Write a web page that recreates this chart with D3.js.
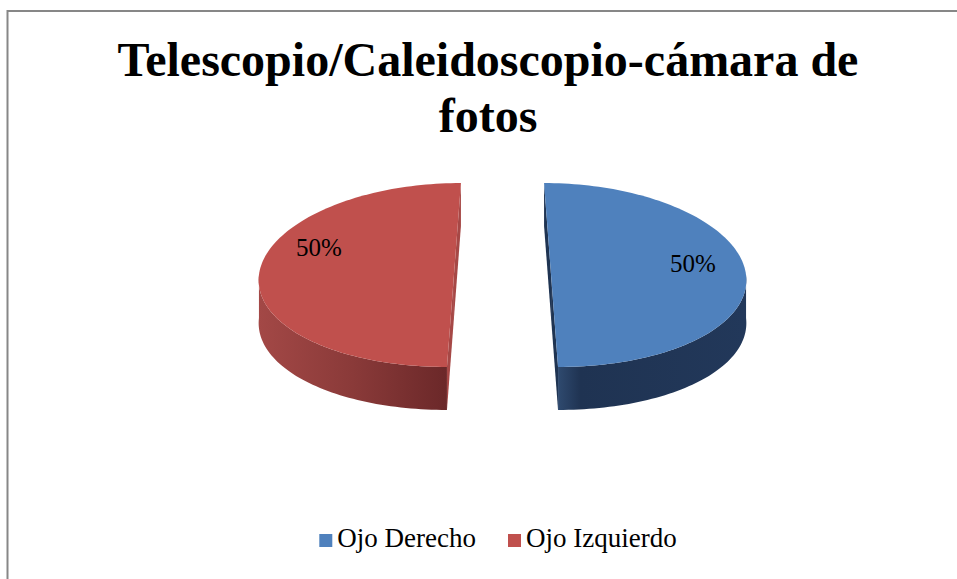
<!DOCTYPE html>
<html>
<head>
<meta charset="utf-8">
<script src="https://cdn.jsdelivr.net/npm/d3@7"></script>
<style>
  body { margin: 0; background: #fff; }
  svg { display: block; }
  text { font-family: "Liberation Serif", "Times New Roman", serif; fill: #000; }
</style>
</head>
<body>
<svg id="chart" width="957" height="579"></svg>
<script>
// data
const categories = ["Ojo Derecho", "Ojo Izquierdo"];
const values = [50, 50];
const labels = ["50%", "50%"];
const colors = ["#4f81bd", "#c0504d"];
const sideDark = [["#2f4a6f", "#1f3352", "#22385a"], ["#a34846", "#8a3a39", "#6b2829"]];
const cutColors = ["#1f3452", "#a64846"];
const titleLines = ["Telescopio/Caleidoscopio-cámara de", "fotos"];

const width = 957, height = 579;
const svg = d3.select("#chart");
const defs = svg.append("defs");

// frame (only top and left edge show inside the picture)
svg.append("rect")
  .attr("x", 7.5).attr("y", 11)
  .attr("width", 1000).attr("height", 1000)
  .attr("fill", "none")
  .attr("stroke", "#878787")
  .attr("stroke-width", 2);

// title
const title = svg.append("text")
  .attr("text-anchor", "middle")
  .style("font-size", "48px")
  .style("font-weight", "bold");
titleLines.forEach((t, i) => {
  title.append("tspan")
    .attr("x", 488)
    .attr("y", 76 + i * 56)
    .text(t);
});

// 3d pie geometry
const cx = 502.5, cy = 275;
const rx = 195, ry = 92, depth = 43;
const persp = 0.144;      // cut lines lean: back is narrower than front
const rimPersp = 0.02;
const explode = 0.249;

const sx = d3.scaleLinear().domain([-1, 1]).range([-rx, rx]);
const sy = d3.scaleLinear().domain([-1, 1]).range([cy - ry, cy + ry]);

// (ou, ov) = explode offset, (u, v) = point on the unit rim
function project(ou, ov, u, v, z) {
  const vv = ov + v;
  return [cx + sx(ou) * (1 + persp * vv) + sx(u) * (1 + rimPersp * vv), sy(vv) + z * depth];
}

const pie = d3.pie().sort(null).value(d => d);
const arcs = pie(values);
const line = d3.line();

arcs.forEach((a, i) => {
  const mid = (a.startAngle + a.endAngle) / 2;
  const ox = Math.sin(mid) * explode, oy = -Math.cos(mid) * explode;
  const pt = (ang, z) => project(ox, oy, Math.sin(ang), -Math.cos(ang), z);
  const ctr = z => project(ox, oy, 0, 0, z);
  const g = svg.append("g");

  // cut faces (straight edges)
  [a.startAngle, a.endAngle].forEach(ang => {
    const face = [pt(ang, 0), ctr(0), ctr(1), pt(ang, 1)];
    g.append("path")
      .attr("d", line(face) + "Z")
      .attr("fill", cutColors[i]);
  });

  // outer side, the front half only
  const s0 = Math.max(a.startAngle, Math.PI / 2);
  const s1 = Math.min(a.endAngle, Math.PI * 1.5);
  if (s1 > s0) {
    const angs = d3.range(0, 61).map(k => s0 + (s1 - s0) * k / 60);
    const pts = angs.map(t => pt(t, 0)).concat(angs.slice().reverse().map(t => pt(t, 1)));
    const xs = pts.map(p => p[0]);
    const gid = "side" + i;
    const grad = defs.append("linearGradient")
      .attr("id", gid)
      .attr("gradientUnits", "userSpaceOnUse")
      .attr("x1", d3.min(xs)).attr("x2", d3.max(xs))
      .attr("y1", 0).attr("y2", 0);
    const stops = i === 0 ? [0, 0.12, 1] : [0, 0.5, 1];
    stops.forEach((o, k) => grad.append("stop").attr("offset", o).attr("stop-color", sideDark[i][k]));
    g.append("path")
      .attr("d", line(pts) + "Z")
      .attr("fill", `url(#${gid})`);
  }

  // top face
  const topAngs = d3.range(0, 121).map(k => a.startAngle + (a.endAngle - a.startAngle) * k / 120);
  const topPts = [ctr(0)].concat(topAngs.map(t => pt(t, 0)));
  g.append("path")
    .attr("d", line(topPts) + "Z")
    .attr("fill", colors[i]);
});

// data labels
const labelPos = [[693, 272], [319, 256]];
arcs.forEach((a, i) => {
  svg.append("text")
    .attr("x", labelPos[i][0])
    .attr("y", labelPos[i][1])
    .attr("text-anchor", "middle")
    .style("font-size", "25px")
    .text(labels[i]);
});

// legend
const legend = svg.append("g");
const items = legend.selectAll("g").data(categories).enter().append("g");
items.append("rect")
  .attr("width", 13).attr("height", 13)
  .attr("y", 534)
  .attr("fill", (d, i) => colors[i]);
items.append("text")
  .attr("x", 18)
  .attr("y", 547)
  .style("font-size", "27px")
  .text(d => d);
let xPos = 0;
const starts = [];
items.each(function() {
  starts.push(xPos);
  xPos += 18 + d3.select(this).select("text").node().getComputedTextLength() + 32;
});
const total = xPos - 32;
const x0 = 498 - total / 2;
items.attr("transform", (d, i) => `translate(${x0 + starts[i]},0)`);
</script>
</body>
</html>
